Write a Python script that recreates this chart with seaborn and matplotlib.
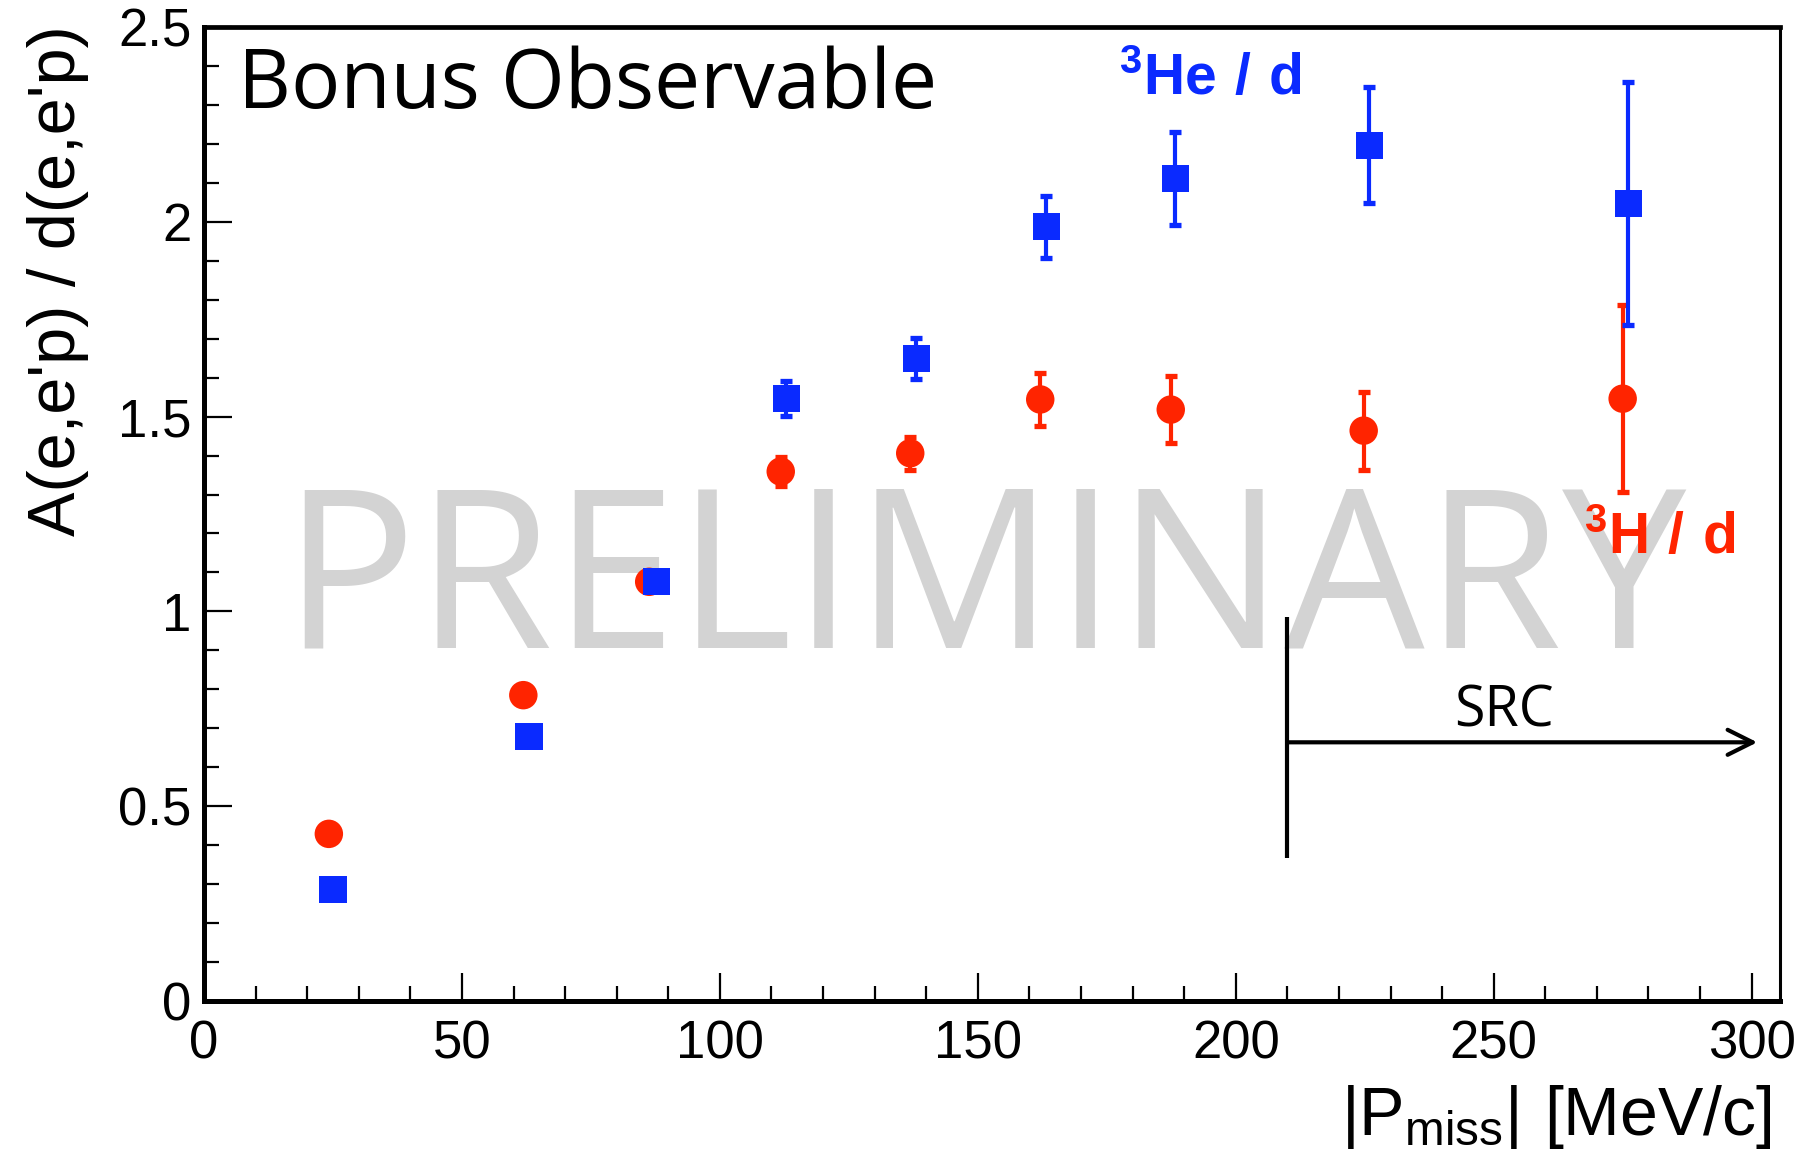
import numpy as np
import pandas as pd
import matplotlib
matplotlib.use("Agg")
import matplotlib.pyplot as plt
import seaborn as sns
from matplotlib.ticker import MultipleLocator

# ---------------- data ----------------
pmiss_he = [25.0, 63.0, 87.7, 112.9, 138.1, 163.3, 188.3, 225.9, 276.1]
ratio_he = [0.286, 0.680, 1.076, 1.546, 1.650, 1.987, 2.112, 2.197, 2.046]
err_he = [0.01, 0.01, 0.01, 0.045, 0.053, 0.080, 0.119, 0.148, 0.312]

pmiss_h = [24.2, 61.9, 86.3, 111.8, 136.9, 162.1, 187.4, 224.8, 275.0]
ratio_h = [0.429, 0.785, 1.076, 1.359, 1.406, 1.544, 1.518, 1.464, 1.546]
err_h = [0.01, 0.01, 0.01, 0.037, 0.042, 0.067, 0.086, 0.100, 0.240]

series_names = ["3H/d", "3He/d"]
x_ticks = [0, 50, 100, 150, 200, 250, 300]
y_ticks = [0, 0.5, 1, 1.5, 2, 2.5]
y_tick_labels = ["0", "0.5", "1", "1.5", "2", "2.5"]

BLUE = "#0A2AFF"
RED = "#FF2400"

df = pd.concat([
    pd.DataFrame({"pmiss": pmiss_h, "ratio": ratio_h, "err": err_h, "series": series_names[0]}),
    pd.DataFrame({"pmiss": pmiss_he, "ratio": ratio_he, "err": err_he, "series": series_names[1]}),
], ignore_index=True)

# ---------------- style ----------------
sns.set_theme(style="ticks")
plt.rcParams["font.family"] = ["Liberation Sans", "DejaVu Sans"]
plt.rcParams["mathtext.fontset"] = "custom"
plt.rcParams["mathtext.rm"] = "Liberation Sans"
plt.rcParams["mathtext.bf"] = "Liberation Sans:bold"
plt.rcParams["mathtext.default"] = "regular"

fig = plt.figure(figsize=(18.17, 11.57), dpi=100)
ax = fig.add_axes([204 / 1817, (1157 - 1001) / 1157, (1780 - 204) / 1817, (1001 - 27) / 1157])
ax.set_facecolor("white")

# error bars (drawn first, below markers)
for name, col in zip(series_names, [RED, BLUE]):
    sub = df[df["series"] == name]
    ax.errorbar(sub["pmiss"], sub["ratio"], yerr=sub["err"], fmt="none",
                ecolor=col, elinewidth=3.0, capsize=4.5, capthick=3.8, zorder=2)

sns.scatterplot(data=df, x="pmiss", y="ratio", hue="series", style="series",
                size="series",
                hue_order=series_names,
                palette={series_names[0]: RED, series_names[1]: BLUE},
                markers={series_names[0]: "o", series_names[1]: "s"},
                sizes={series_names[0]: 420, series_names[1]: 380},
                linewidth=0, legend=False, ax=ax, zorder=3)

# axes limits & ticks
ax.set_xlim(0, 305.5)
ax.set_ylim(0, 2.5)
ax.set_xticks(x_ticks)
ax.set_xticklabels([str(v) for v in x_ticks])
ax.set_yticks(y_ticks)
ax.set_yticklabels(y_tick_labels)
ax.xaxis.set_minor_locator(MultipleLocator(10))
ax.yaxis.set_minor_locator(MultipleLocator(0.1))
ax.tick_params(axis="both", which="major", direction="in", length=20, width=1.6,
               labelsize=38, color="black", labelcolor="black")
ax.tick_params(axis="both", which="minor", direction="in", length=10.5, width=1.6,
               color="black")
ax.tick_params(axis="x", which="major", pad=13)
ax.tick_params(axis="y", which="major", pad=9)
ax.tick_params(top=False, right=False, which="both")

for side, lw in [("left", 3.6), ("bottom", 3.6), ("top", 3.4), ("right", 2.2)]:
    ax.spines[side].set_visible(True)
    ax.spines[side].set_linewidth(lw)
    ax.spines[side].set_color("black")

# axis labels
ax.set_ylabel("A(e,e'p) / d(e,e'p)", fontsize=48, color="black")
ax.yaxis.set_label_coords(-0.073, 0.740)
ax.set_xlabel(r"$\mathregular{|P_{miss}|\ [MeV/c]}$", fontsize=49, color="black",
              ha="right", va="top")
ax.xaxis.set_label_coords(0.995, -0.084)

# watermark
ax.text(15.2, 0.907, "PRELIMINARY", fontsize=160, color="#D3D3D3",
        family=["Open Sans", "DejaVu Sans"], ha="left", va="baseline", zorder=0.5)

# titles / annotations
ax.text(6.6, 2.292, "Bonus Observable", fontsize=59, color="black",
        family=["Open Sans", "DejaVu Sans"], ha="left", va="baseline", zorder=4)
ax.text(177.3, 2.325, r"$\mathbf{^{3}He\ /\ d}$", fontsize=41, color=BLUE,
        ha="left", va="baseline", zorder=4)
ax.text(267.6, 1.147, r"$\mathbf{^{3}H\ /\ d}$", fontsize=41, color=RED,
        ha="left", va="baseline", zorder=4)

# SRC marker
src_x = 210
ax.plot([src_x, src_x], [0.366, 0.986], color="black", lw=3, zorder=4,
        solid_capstyle="butt")
ax.annotate("", xy=(301.1, 0.664), xytext=(src_x, 0.664),
            arrowprops=dict(arrowstyle="->,head_length=0.9,head_width=0.45",
                            lw=3, color="black", shrinkA=0, shrinkB=0,
                            mutation_scale=20), zorder=4)
ax.text(251.9, 0.7055, "SRC", fontsize=40, color="black",
        family=["Open Sans", "DejaVu Sans"], ha="center", va="baseline", zorder=4)

fig.savefig("out.png", dpi=100, facecolor="white")
